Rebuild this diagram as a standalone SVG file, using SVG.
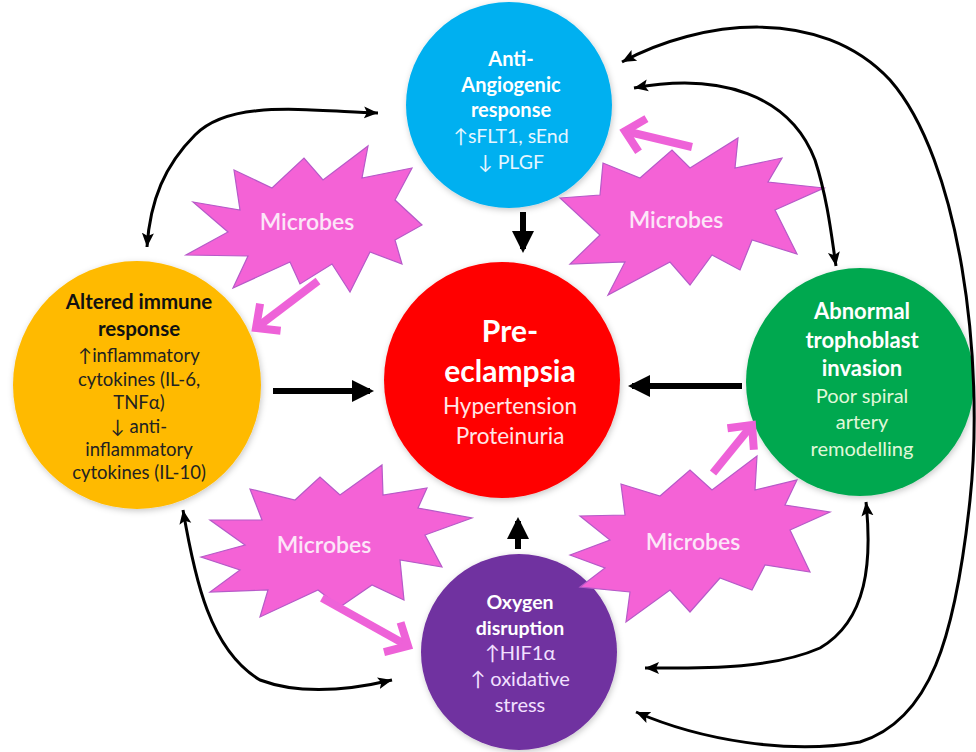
<svg xmlns="http://www.w3.org/2000/svg" width="976" height="752" viewBox="0 0 976 752">
<defs>
<style>
.t{font-family:Lato,"Liberation Sans",sans-serif;text-anchor:middle}
.b{font-weight:bold}
.burst{fill:#F462D6;stroke:#B65AC8;stroke-width:1.2;stroke-linejoin:miter}
.mic{font-family:Lato,"Liberation Sans",sans-serif;text-anchor:middle;font-size:23px;fill:#FCE6F8;font-weight:600}
.thin{fill:none;stroke:#000;stroke-width:3;marker-start:url(#sm);marker-end:url(#sm)}
.thick{fill:none;stroke:#000;stroke-width:6;marker-end:url(#big)}
.pink{fill:none;stroke:#EE62D8;stroke-width:8;marker-end:url(#chev)}
</style>
<filter id="sh" x="-20%" y="-20%" width="140%" height="140%">
<feDropShadow dx="1" dy="2" stdDeviation="3" flood-color="#000" flood-opacity="0.22"/>
</filter>
<marker id="sm" markerUnits="userSpaceOnUse" markerWidth="16" markerHeight="14" viewBox="-14 -7 16 14" refX="0" refY="0" orient="auto-start-reverse">
<path d="M-14,-6 L0,0 L-14,6 L-11,0 Z" fill="#000"/>
</marker>
<marker id="big" markerUnits="userSpaceOnUse" markerWidth="26" markerHeight="26" viewBox="-20 -13 22 26" refX="-2" refY="0" orient="auto">
<path d="M-20,-11 L2,0 L-20,11 Z" fill="#000"/>
</marker>
<marker id="chev" markerUnits="userSpaceOnUse" markerWidth="44" markerHeight="44" viewBox="-30 -22 36 44" refX="0" refY="0" orient="auto">
<path d="M-18,-17 L0,0 L-18,17" fill="none" stroke="#EE62D8" stroke-width="8"/>
</marker>
</defs>
<rect width="976" height="752" fill="#fff"/>

<g id="node-anti-angiogenic">
<circle cx="509" cy="105" r="103" fill="#00B0F0" filter="url(#sh)"/>
<text class="t b" x="511" y="66" font-size="20" fill="#fff">Anti-</text>
<text class="t b" x="511" y="92" font-size="20" fill="#fff">Angiogenic</text>
<text class="t b" x="511" y="117" font-size="20" fill="#fff">response</text>
<text class="t" x="511" y="143" font-size="19.5" fill="#E6F6FF">↑sFLT1, sEnd</text>
<text class="t" x="511" y="169" font-size="19.5" fill="#E6F6FF">↓ PLGF</text>
</g>

<g id="node-immune">
<circle cx="137" cy="385" r="124" fill="#FFBA00" filter="url(#sh)"/>
<text class="t b" x="139" y="309" font-size="20.5" fill="#111">Altered immune</text>
<text class="t b" x="139" y="336" font-size="20.5" fill="#111">response</text>
<text class="t" x="139" y="362" font-size="18.5" fill="#222">↑inflammatory</text>
<text class="t" x="139" y="386" font-size="18.5" fill="#222">cytokines (IL-6,</text>
<text class="t" x="139" y="409" font-size="18.5" fill="#222">TNFα)</text>
<text class="t" x="139" y="433" font-size="18.5" fill="#222">↓ anti-</text>
<text class="t" x="139" y="456" font-size="18.5" fill="#222">inflammatory</text>
<text class="t" x="139" y="479" font-size="18.5" fill="#222">cytokines (IL-10)</text>
</g>

<g id="node-preeclampsia">
<circle cx="502" cy="380" r="118" fill="#FF0000" filter="url(#sh)"/>
<text class="t b" x="510" y="342" font-size="30" fill="#fff">Pre-</text>
<text class="t b" x="510" y="382" font-size="30" fill="#fff">eclampsia</text>
<text class="t" x="510" y="414" font-size="22.5" fill="#FFE6E6">Hypertension</text>
<text class="t" x="510" y="444" font-size="22.5" fill="#FFE6E6">Proteinuria</text>
</g>

<g id="node-trophoblast">
<circle cx="860" cy="382" r="114" fill="#00A850" filter="url(#sh)"/>
<text class="t b" x="862" y="319" font-size="22" fill="#fff">Abnormal</text>
<text class="t b" x="862" y="348" font-size="22" fill="#fff">trophoblast</text>
<text class="t b" x="862" y="376" font-size="22" fill="#fff">invasion</text>
<text class="t" x="862" y="403" font-size="20" fill="#E0F8DA">Poor spiral</text>
<text class="t" x="862" y="429" font-size="20" fill="#E0F8DA">artery</text>
<text class="t" x="862" y="456" font-size="20" fill="#E0F8DA">remodelling</text>
</g>

<g id="node-oxygen">
<circle cx="519" cy="652" r="98" fill="#7030A0" filter="url(#sh)"/>
<text class="t b" x="520" y="609" font-size="19.5" fill="#fff">Oxygen</text>
<text class="t b" x="520" y="635" font-size="19.5" fill="#fff">disruption</text>
<text class="t" x="520" y="660" font-size="20" fill="#F2E0FF">↑HIF1α</text>
<text class="t" x="520" y="686" font-size="20" fill="#F2E0FF">↑ oxidative</text>
<text class="t" x="520" y="712" font-size="20" fill="#F2E0FF">stress</text>
</g>

<g id="microbes-top-left">
<polygon class="burst" points="193,202 240,210 234,170 272,188 304,158 323,180 368,146 362,178 412,168 395,200 422,225 395,240 402,264 370,252 350,292 332,264 300,284 290,262 233,288 248,256 186,255 228,232"/>
<text class="mic" x="307" y="230">Microbes</text>
</g>
<g id="microbes-top-right">
<polygon class="burst" points="560,198 600,195 603,163 640,178 672,150 690,168 738,138 735,168 782,158 768,182 824,188 775,210 797,254 752,240 740,270 712,255 690,285 670,262 608,295 625,262 570,264 600,235"/>
<text class="mic" x="676" y="228">Microbes</text>
</g>
<g id="microbes-bottom-left">
<polygon class="burst" points="201,557 245,545 210,520 262,520 250,489 295,500 320,477 340,495 382,465 383,495 427,488 418,508 472,518 425,535 442,567 400,560 404,600 372,585 340,607 318,590 260,617 268,590 210,592 240,570"/>
<text class="mic" x="324" y="553">Microbes</text>
</g>
<g id="microbes-bottom-right">
<polygon class="burst" points="570,555 610,540 580,516 625,515 621,484 660,496 690,470 712,490 757,456 755,490 797,480 785,505 830,512 790,530 810,572 765,565 752,590 720,578 690,612 670,590 626,622 630,592 580,587 605,568"/>
<text class="mic" x="693" y="550">Microbes</text>
</g>

<g id="connectors">
<path class="thick" d="M523,212 L523,249"/>
<path class="thick" d="M273,391 L370,391"/>
<path class="thick" d="M742,386 L632,386"/>
<path class="thick" d="M518,549 L518,521"/>
<path class="thin" d="M378,113 C300,110 230,100 195,135 C165,165 150,200 147,247"/>
<path class="thin" d="M183,510 C195,580 210,650 260,680 C300,695 350,690 392,680"/>
<path class="thin" d="M634,88 C720,72 790,95 815,160 C828,200 832,240 836,266"/>
<path class="thin" d="M866,502 C872,560 868,620 820,648 C770,670 700,668 645,668"/>
<path class="thin" d="M622,62 C700,20 820,5 890,80 C960,160 985,360 970,500 C955,640 930,720 860,742 C790,755 700,740 636,712"/>
<path class="pink" d="M318,281 L256,328"/>
<path class="pink" d="M692,147 L625,131"/>
<path class="pink" d="M322,598 L408,646"/>
<path class="pink" d="M713,473 L752,425"/>
</g>
</svg>
